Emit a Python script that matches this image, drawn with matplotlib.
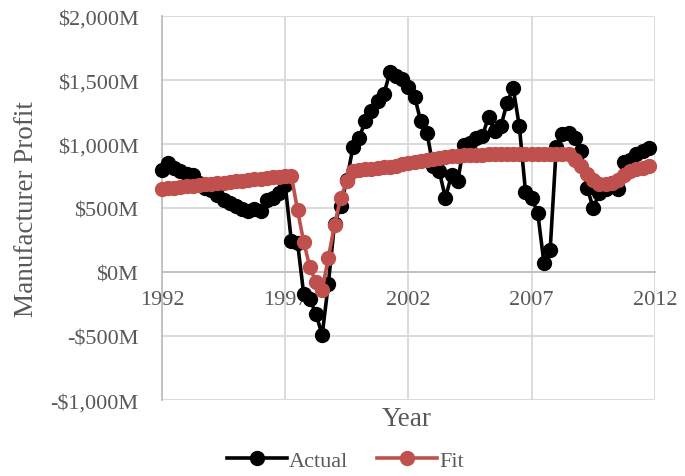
import matplotlib
matplotlib.use("Agg")
import matplotlib.pyplot as plt
from matplotlib.ticker import FuncFormatter, MultipleLocator

years = [1992 + q / 4 for q in range(80)]
year_ticks = [1992, 1997, 2002, 2007, 2012]

actual = [800, 850, 810, 790, 770, 760, 700, 660, 640, 600,
          560, 540, 520, 490, 480, 490, 480, 560, 580, 620,
          680, 240, 230, -170, -210, -330, -490, -90, 380, 520,
          720, 980, 1050, 1180, 1260, 1340, 1390, 1560, 1530, 1510,
          1450, 1370, 1180, 1090, 830, 790, 580, 760, 710, 990,
          1010, 1045, 1060, 1215, 1100, 1140, 1320, 1440, 1140, 630,
          580, 460, 70, 170, 980, 1080, 1085, 1050, 950, 660,
          500, 620, 650, 700, 650, 860, 880, 920, 950, 970]

fit = [650, 655, 660, 665, 670, 675, 680, 685, 690, 695,
       700, 705, 710, 715, 720, 725, 730, 735, 740, 745,
       750, 752, 485, 235, 40, -80, -140, 110, 370, 580,
       710, 790, 797, 803, 808, 813, 818, 825, 833, 842,
       852, 862, 872, 880, 888, 895, 900, 905, 910, 913,
       915, 917, 919, 920, 920, 921, 921, 922, 922, 922,
       922, 922, 922, 922, 922, 921, 920, 880, 830, 770,
       720, 690, 685, 695, 720, 760, 790, 805, 815, 830]

plt.rcParams['font.family'] = ['Liberation Serif', 'DejaVu Serif']
gray = '#595959'
grid = '#d9d9d9'

fig = plt.figure(figsize=(6.85, 4.77), dpi=100)
ax = fig.add_axes([0.2365, 0.159, 0.7195, 0.805])

ax.plot(years, actual, color='black', lw=2.6, marker='o', ms=10,
        label='Actual', zorder=3, clip_on=False)
ax.plot(years, fit, color='#C0504D', lw=2.6, marker='o', ms=10,
        label='Fit', zorder=4, clip_on=False)

ax.set_xlim(1992, 2012)
ax.set_ylim(-1000, 2000)
ax.set_xticks(year_ticks)
ax.yaxis.set_major_locator(MultipleLocator(500))

def yfmt(v, pos):
    v = int(round(v))
    if v < 0:
        return '-${:,}M'.format(-v)
    return '${:,}M'.format(v)

ax.yaxis.set_major_formatter(FuncFormatter(yfmt))
ax.set_xticklabels([str(y) for y in year_ticks])

ax.grid(True, color=grid, lw=1.3, zorder=0)
ax.set_axisbelow(True)
for s in ['top', 'right']:
    ax.spines[s].set_visible(False)
ax.spines['left'].set_color('#bfbfbf')
ax.spines['left'].set_linewidth(1.3)
ax.spines['bottom'].set_position(('data', 0))
ax.spines['bottom'].set_color('#bfbfbf')
ax.spines['bottom'].set_linewidth(1.3)

ax.tick_params(axis='both', length=0, labelsize=16, colors=gray)
ax.tick_params(axis='y', pad=17)
ax.tick_params(axis='x', pad=13)

ax.set_ylabel('Manufacturer Profit', fontsize=19.5, color=gray, labelpad=8)
ax.set_xlabel('Year', fontsize=19.5, color=gray)
ax.xaxis.set_label_coords(0.497, -0.015)

fig.legend(handles=ax.get_lines(), labels=['Actual', 'Fit'],
           loc='center', bbox_to_anchor=(0.504, 0.033), ncol=2,
           frameon=False, fontsize=16, handlelength=2.7,
           columnspacing=1.3, handletextpad=0.1, labelcolor=gray,
           borderaxespad=0)

fig.savefig('out.png', dpi=100)
